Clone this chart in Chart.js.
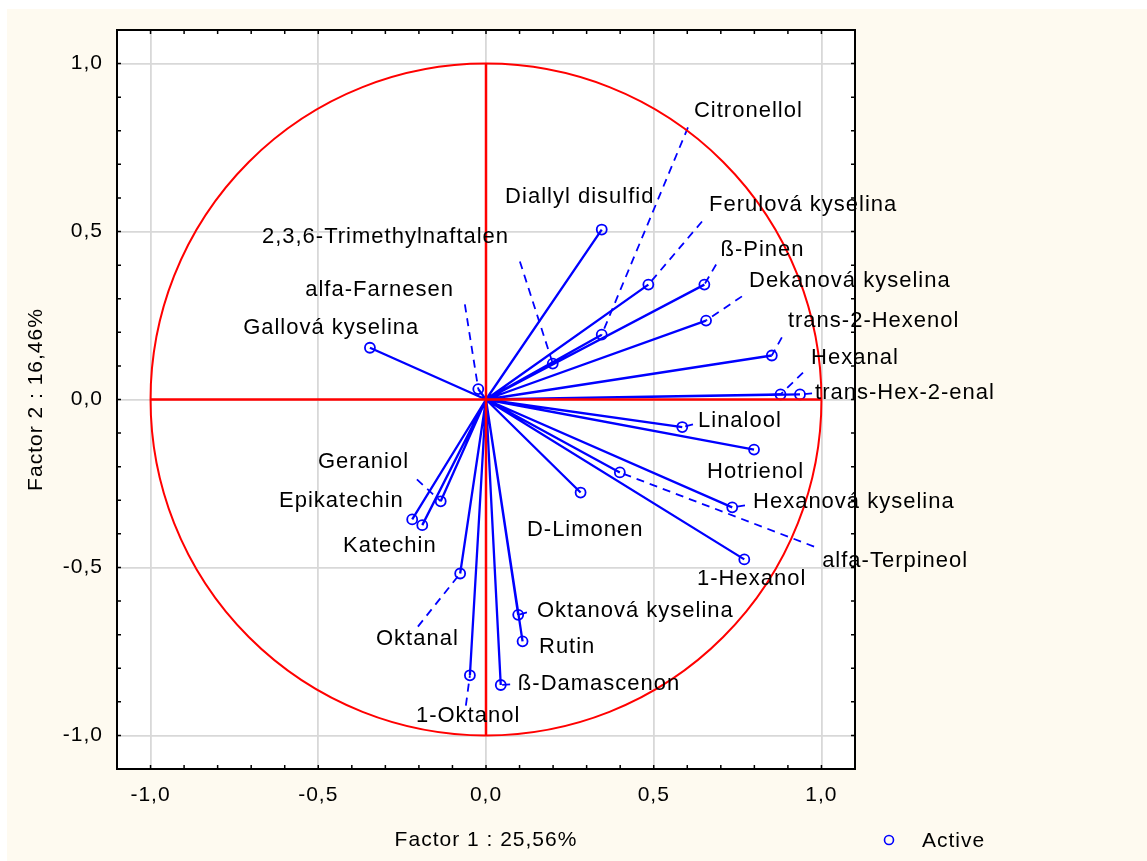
<!DOCTYPE html>
<html>
<head>
<meta charset="utf-8">
<script src="https://cdn.jsdelivr.net/npm/chart.js@4.4.0/dist/chart.umd.min.js"></script>
<style>
  html, body { margin: 0; padding: 0; background: #ffffff; }
  canvas { display: block; }
</style>
</head>
<body>
<canvas id="pcaChart" width="1147" height="861"></canvas>
<script>
// loadings on the first two factors
const variables = [
    'Diallyl disulfid', 'Citronellol', 'Ferulová kyselina', 'ß-Pinen', 'Dekanová kyselina',
    '2,3,6-Trimethylnaftalen', 'alfa-Farnesen', 'Gallová kyselina', 'trans-2-Hexenol', 'Hexanal',
    'trans-Hex-2-enal', 'Linalool', 'Hotrienol', 'Hexanová kyselina', 'alfa-Terpineol',
    '1-Hexanol', 'D-Limonen', 'Geraniol', 'Epikatechin', 'Katechin',
    'Oktanal', 'Oktanová kyselina', 'Rutin', 'ß-Damascenon', '1-Oktanol'
];
const factor1 = [
    0.345, 0.345, 0.484, 0.651, 0.656,
    0.199, -0.023, -0.346, 0.852, 0.878,
    0.936, 0.585, 0.799, 0.734, 0.399,
    0.770, 0.282, -0.135, -0.220, -0.190,
    -0.077, 0.096, 0.109, 0.044, -0.048
];
const factor2 = [
    0.506, 0.193, 0.342, 0.342, 0.235,
    0.107, 0.031, 0.154, 0.131, 0.015,
    0.015, -0.082, -0.149, -0.321, -0.217,
    -0.476, -0.277, -0.303, -0.357, -0.374,
    -0.518, -0.641, -0.720, -0.850, -0.821
];

// where each name sits (left edge, middle), in factor units
const labelX = [
    0.057, 0.620, 0.665, 0.699, 0.784,
    -0.668, -0.539, -0.724, 0.900, 0.969,
    0.981, 0.632, 0.659, 0.796, 1.002,
    0.629, 0.122, -0.501, -0.617, -0.426,
    -0.328, 0.152, 0.158, 0.095, -0.209
];
const labelY = [
    0.604, 0.860, 0.580, 0.446, 0.354,
    0.485, 0.327, 0.214, 0.235, 0.125,
    0.021, -0.065, -0.217, -0.304, -0.482,
    -0.533, -0.387, -0.185, -0.301, -0.435,
    -0.714, -0.628, -0.738, -0.848, -0.943
];

// start of the dashed leader that runs from a name to its point (null = none)
const leaderX = [
    null, 0.602, 0.644, 0.686, 0.763,
    0.101, -0.063, null, 0.882, 0.945,
    0.972, 0.617, null, 0.772, 0.978,
    null, null, -0.206, null, null,
    -0.203, 0.122, null, 0.072, -0.060
];
const leaderY = [
    null, 0.810, 0.530, 0.402, 0.307,
    0.411, 0.283, null, 0.185, 0.080,
    0.018, -0.074, null, -0.315, -0.438,
    null, null, -0.238, null, null,
    -0.676, -0.634, null, -0.848, -0.911
];

const axisTicks = [-1.0, -0.5, 0.0, 0.5, 1.0];
const xTitle = 'Factor 1 : 25,56%';
const yTitle = 'Factor 2 : 16,46%';
const legendLabel = 'Active';

const BLUE = '#0000ff';
const RED = '#ff0000';
const FONT = '"Liberation Sans", Arial, sans-serif';

let points = [];
let vectors = [];
let leaders = [];
for (let i = 0; i < variables.length; i++) {
    points.push({x: factor1[i], y: factor2[i]});
    vectors.push({x: 0, y: 0}, {x: factor1[i], y: factor2[i]}, {x: null, y: null});
    if (leaderX[i] !== null) {
        leaders.push({x: leaderX[i], y: leaderY[i]}, {x: factor1[i], y: factor2[i]}, {x: null, y: null});
    }
}
const crossLines = [{x: -1, y: 0}, {x: 1, y: 0}, {x: null, y: null}, {x: 0, y: -1}, {x: 0, y: 1}];

const fmt = v => v.toFixed(1).replace('.', ',');

const pcaPlugin = {
    id: 'pcaPlugin',
    beforeDraw(chart) {
        const ctx = chart.ctx;
        const a = chart.chartArea;
        ctx.fillStyle = '#ffffff';
        ctx.fillRect(0, 0, chart.width, chart.height);
        ctx.fillStyle = '#fefaf0';
        ctx.fillRect(7, 9, chart.width - 7, chart.height - 9);
        ctx.fillStyle = '#ffffff';
        ctx.fillRect(a.left, a.top, a.width, a.height);
        ctx.letterSpacing = '1px';
    },
    afterDatasetsDraw(chart) {
        const ctx = chart.ctx;
        const xs = chart.scales.x, ys = chart.scales.y;
        // unit circle
        const cx = xs.getPixelForValue(0), cy = ys.getPixelForValue(0);
        const rx = xs.getPixelForValue(1) - cx, ry = cy - ys.getPixelForValue(1);
        ctx.save();
        ctx.strokeStyle = RED;
        ctx.lineWidth = 2;
        ctx.beginPath();
        ctx.ellipse(cx, cy, rx, ry, 0, 0, Math.PI * 2);
        ctx.stroke();
        ctx.restore();
    },
    afterDraw(chart) {
        const ctx = chart.ctx;
        const a = chart.chartArea;
        const xs = chart.scales.x, ys = chart.scales.y;
        ctx.save();
        // frame
        ctx.strokeStyle = '#000000';
        ctx.lineWidth = 2;
        ctx.strokeRect(a.left, a.top, a.width, a.height);
        // inner ticks every 0.1
        ctx.lineWidth = 1.5;
        ctx.beginPath();
        for (let i = -10; i <= 10; i++) {
            let px = xs.getPixelForValue(i / 10);
            let py = ys.getPixelForValue(i / 10);
            ctx.moveTo(px, a.top); ctx.lineTo(px, a.top + 4);
            ctx.moveTo(px, a.bottom); ctx.lineTo(px, a.bottom - 4);
            ctx.moveTo(a.left, py); ctx.lineTo(a.left + 4, py);
            ctx.moveTo(a.right, py); ctx.lineTo(a.right - 4, py);
        }
        ctx.stroke();

        // variable names
        ctx.fillStyle = '#000000';
        ctx.font = '22px ' + FONT;
        ctx.textAlign = 'left';
        ctx.textBaseline = 'middle';
        ctx.letterSpacing = '1px';
        for (let i = 0; i < variables.length; i++) {
            ctx.fillText(variables[i], xs.getPixelForValue(labelX[i]), ys.getPixelForValue(labelY[i]));
        }

        // legend
        ctx.strokeStyle = BLUE;
        ctx.lineWidth = 1.6;
        ctx.beginPath();
        ctx.arc(889, 840, 4.5, 0, Math.PI * 2);
        ctx.stroke();
        ctx.font = '21px ' + FONT;
        ctx.fillText(legendLabel, 922, 841);
        ctx.restore();
    }
};

const ctx = document.getElementById('pcaChart').getContext('2d');
const myChart = new Chart(ctx, {
    type: 'scatter',
    data: {
        datasets: [
            {
                label: 'axes',
                data: crossLines,
                showLine: true,
                spanGaps: false,
                borderColor: RED,
                borderWidth: 2.5,
                pointRadius: 0
            },
            {
                label: legendLabel,
                data: points,
                showLine: false,
                pointStyle: 'circle',
                pointRadius: 5,
                pointBorderWidth: 1.8,
                pointBorderColor: BLUE,
                pointBackgroundColor: 'rgba(0,0,0,0)'
            },
            {
                label: 'vectors',
                data: vectors,
                showLine: true,
                spanGaps: false,
                borderColor: BLUE,
                borderWidth: 2.3,
                pointRadius: 0
            },
            {
                label: 'leaders',
                data: leaders,
                showLine: true,
                spanGaps: false,
                borderColor: BLUE,
                borderWidth: 1.8,
                borderDash: [8, 6],
                pointRadius: 0
            }
        ]
    },
    options: {
        responsive: false,
        animation: false,
        layout: {padding: {left: 0, top: 30, right: 292, bottom: 0}},
        plugins: {
            legend: {display: false},
            tooltip: {enabled: false}
        },
        scales: {
            x: {
                type: 'linear',
                min: -1.1,
                max: 1.1,
                afterFit: scale => { scale.height = 92; },
                afterBuildTicks: scale => { scale.ticks = axisTicks.map(v => ({value: v})); },
                border: {display: false},
                grid: {color: '#d8d8d8', lineWidth: 1.8, drawTicks: false},
                ticks: {
                    padding: 14,
                    color: '#000000',
                    font: {family: FONT, size: 21},
                    callback: v => fmt(v)
                },
                title: {
                    display: true,
                    text: xTitle,
                    color: '#000000',
                    font: {family: FONT, size: 21},
                    padding: {top: 0, bottom: 8}
                }
            },
            y: {
                type: 'linear',
                min: -1.1,
                max: 1.1,
                afterFit: scale => { scale.width = 117; },
                afterBuildTicks: scale => { scale.ticks = axisTicks.map(v => ({value: v})); },
                border: {display: false},
                grid: {color: '#d8d8d8', lineWidth: 1.8, drawTicks: false},
                ticks: {
                    padding: 14,
                    color: '#000000',
                    font: {family: FONT, size: 21},
                    callback: v => fmt(v)
                },
                title: {
                    display: true,
                    text: yTitle,
                    color: '#000000',
                    font: {family: FONT, size: 21},
                    padding: {top: 24, bottom: 0}
                }
            }
        }
    },
    plugins: [pcaPlugin]
});
</script>
</body>
</html>
